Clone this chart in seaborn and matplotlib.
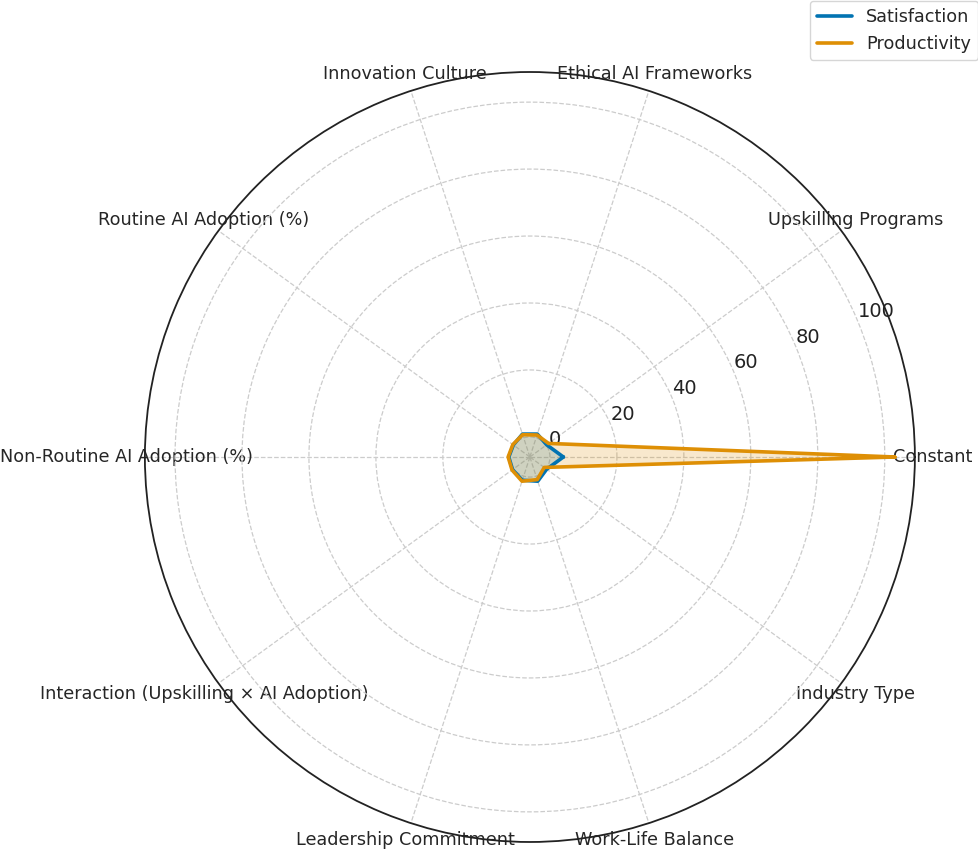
import numpy as np
import pandas as pd
import matplotlib
matplotlib.use("Agg")
import matplotlib.pyplot as plt
import seaborn as sns

categories = [
    "Constant",
    "Upskilling Programs",
    "Ethical AI Frameworks",
    "Innovation Culture",
    "Routine AI Adoption (%)",
    "Non-Routine AI Adoption (%)",
    "Interaction (Upskilling × AI Adoption)",
    "Leadership Commitment",
    "Work-Life Balance",
    "Industry Type",
]
satisfaction = [4.0, 0.2, 1.2, 1.2, 0.1, 0.3, 0.4, 1.3, 1.6, 0.2]
productivity = [103.0, 0.9, 0.9, 1.0, 0.3, 0.5, 0.6, 1.6, 1.1, -0.7]
series_names = ["Satisfaction", "Productivity"]
r_ticks = [0, 20, 40, 60, 80, 100]

sns.set_theme(style="white", palette="colorblind")
colors = sns.color_palette("colorblind")

df = pd.DataFrame({"Satisfaction": satisfaction, "Productivity": productivity},
                  index=categories)

n = len(categories)
angles = np.linspace(0, 2 * np.pi, n, endpoint=False)
closed = np.concatenate([angles, angles[:1]])

fig = plt.figure(figsize=(9.79, 8.57), dpi=100)
ax = fig.add_axes([0.148, 0.0175, 0.7865, 0.8985], projection="polar")

for i, name in enumerate(series_names):
    vals = df[name].to_numpy()
    vals = np.concatenate([vals, vals[:1]])
    sns.lineplot(x=closed, y=vals, ax=ax, color=colors[i], linewidth=2.6,
                 label=name, sort=False, estimator=None, legend=False)
    ax.fill(closed, vals, color=colors[i], alpha=0.2)

ax.set_ylim(-6, 109)
ax.set_yticks(r_ticks)
ax.set_yticklabels([str(t) for t in r_ticks], fontsize=14, color="#222222")
ax.set_rlabel_position(22.5)
ax.set_xticks(angles)
ax.set_xticklabels(categories, fontsize=12.7, color="#262626")
ax.tick_params(axis="x", pad=0)
ax.grid(True, linestyle="--", color="#cccccc", linewidth=0.9)
ax.spines["polar"].set_color("#222222")
ax.spines["polar"].set_linewidth(1.3)

handles = [plt.Line2D([], [], color=colors[i], linewidth=2.6) for i in range(2)]
fig.legend(handles, series_names, loc="upper right", bbox_to_anchor=(1.0, 1.0),
           fontsize=12.7, frameon=True, borderaxespad=0.05)

fig.savefig("out.png", dpi=100)
